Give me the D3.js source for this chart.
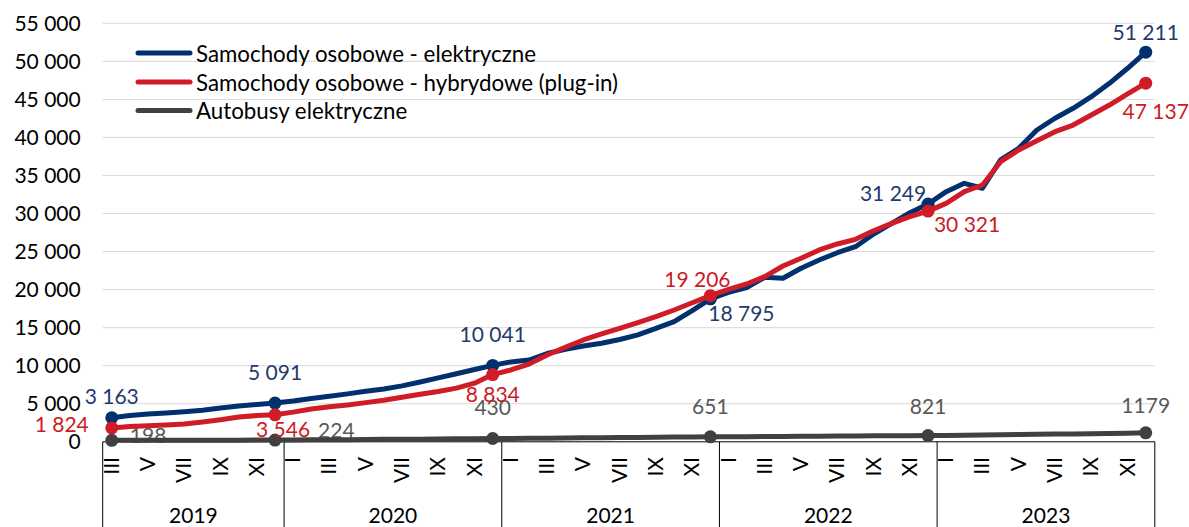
<!DOCTYPE html>
<html><head><meta charset="utf-8">
<script src="https://cdn.jsdelivr.net/npm/d3@7"></script>
<style>
body{margin:0;background:#fff}
svg{display:block}
text{font-family:Lato,"Noto Sans",sans-serif}
</style>
</head><body>
<svg id="chart" width="1189" height="527"></svg>
<script>
// ---------- DATA ----------
const categories = [
  "2019-III","2019-IV","2019-V","2019-VI","2019-VII","2019-VIII","2019-IX","2019-X","2019-XI","2019-XII",
  "2020-I","2020-II","2020-III","2020-IV","2020-V","2020-VI","2020-VII","2020-VIII","2020-IX","2020-X","2020-XI","2020-XII",
  "2021-I","2021-II","2021-III","2021-IV","2021-V","2021-VI","2021-VII","2021-VIII","2021-IX","2021-X","2021-XI","2021-XII",
  "2022-I","2022-II","2022-III","2022-IV","2022-V","2022-VI","2022-VII","2022-VIII","2022-IX","2022-X","2022-XI","2022-XII",
  "2023-I","2023-II","2023-III","2023-IV","2023-V","2023-VI","2023-VII","2023-VIII","2023-IX","2023-X","2023-XI","2023-XII"
];
const years = ["2019","2020","2021","2022","2023"];
const shownMonths = ["I","III","V","VII","IX","XI"];
const yTicks = [0,5000,10000,15000,20000,25000,30000,35000,40000,45000,50000,55000];

const seriesNames = [
  "Samochody osobowe - elektryczne",
  "Samochody osobowe - hybrydowe (plug-in)",
  "Autobusy elektryczne"
];
const electricCars = [
  3163,3450,3650,3800,3950,4150,4450,4700,4900,5091,
  5350,5700,6000,6300,6650,6950,7350,7850,8400,8950,9500,10041,
  10500,10750,11600,12150,12600,12950,13450,14050,14900,15800,17250,18795,
  19650,20260,21620,21490,22800,23890,24850,25640,27310,28710,30110,31249,
  32870,33970,33320,37040,38570,40980,42520,43830,45350,47110,49090,51211
];
const hybridCars = [
  1824,2000,2100,2200,2350,2600,2900,3250,3450,3546,
  3900,4300,4600,4850,5150,5450,5850,6250,6600,7050,7700,8834,
  9440,10220,11410,12420,13380,14170,14920,15660,16450,17320,18280,19206,
  20040,20740,21700,23100,24120,25210,26000,26610,27740,28710,29580,30321,
  31340,32870,33750,36810,38350,39570,40760,41630,42950,44260,45710,47137
];
const electricBuses = [
  198,200,203,205,208,212,215,218,221,224,
  240,255,270,285,300,320,335,350,370,390,410,430,
  450,465,480,500,520,540,560,575,595,615,635,651,
  665,680,690,705,720,735,750,765,780,795,810,821,
  840,865,890,920,950,985,1010,1040,1070,1100,1140,1179
];
// categories whose points carry a marker and a value label
const markedCategories = ["2019-III","2019-XII","2020-XII","2021-XII","2022-XII","2023-XII"];

// ---------- STYLE / LAYOUT ----------
const colors = ["#00306e","#d01c27","#404040"];
const labelColors = ["#1f3a6e","#cc1a24","#595959"];
const FS = 21;
const LEGEND_FS = 22.3;
// label offsets (dx, dy from point, anchor) per series per marked category
const labelOffsets = [
  [[0,-22,"middle"],[0,-32,"middle"],[0,-32,"middle"],[31,14,"middle"],[-35,-12,"middle"],[0,-21,"middle"]],
  [[-23,-4,"end"],[8,14,"middle"],[0,19,"middle"],[-13,-17,"middle"],[39,12,"middle"],[10,27,"middle"]],
  [[18,-6,"start"],[43,-11,"start"],[0,-32,"middle"],[0,-31,"middle"],[0,-30,"middle"],[0,-28,"middle"]]
];

const svg = d3.select("#chart");
const left = 102.7, right = 1154.8, y0 = 441.8, yTop = 23.3;

const x = d3.scaleBand().domain(categories).range([left, right]).padding(0);
const cx = c => x(c) + x.bandwidth() / 2;
const y = d3.scaleLinear().domain([0, 55000]).range([y0, yTop]);

const loc = d3.formatLocale({decimal:",", thousands:" ", grouping:[3], currency:["",""]});
const fmt = loc.format(",d");

// gridlines
svg.append("g").selectAll("line").data(yTicks.filter(d => d > 0)).join("line")
  .attr("x1", left).attr("x2", right)
  .attr("y1", d => y(d)).attr("y2", d => y(d))
  .attr("stroke", "#d9d9d9").attr("stroke-width", 1);

// y axis
const yAxis = svg.append("g").attr("transform", `translate(${left},0)`)
  .call(d3.axisLeft(y).tickValues(yTicks).tickFormat(fmt).tickSize(0).tickPadding(22));
yAxis.select(".domain").remove();
yAxis.selectAll("text").attr("font-size", FS).attr("fill", "#000").attr("font-family", "Lato");

// x axis box
svg.append("line").attr("x1", left).attr("x2", right).attr("y1", y0).attr("y2", y0)
  .attr("stroke", "#000").attr("stroke-width", 1);
const yearStarts = years.map(yr => categories.find(c => c.startsWith(yr)));
const yearEnds = years.map(yr => categories.filter(c => c.startsWith(yr)).slice(-1)[0]);
const boundaries = yearStarts.map(c => x(c)).concat([x(yearEnds[yearEnds.length-1]) + x.bandwidth()]);
svg.append("g").selectAll("line").data(boundaries).join("line")
  .attr("x1", d => d).attr("x2", d => d).attr("y1", y0).attr("y2", 527)
  .attr("stroke", "#000").attr("stroke-width", 1);

// month labels (rotated)
const monthLabelData = categories.filter(c => shownMonths.includes(c.split("-")[1]));
svg.append("g").selectAll("text").data(monthLabelData).join("text")
  .attr("transform", c => `translate(${cx(c) + 7},457) rotate(-90)`)
  .attr("text-anchor", "end")
  .attr("font-size", FS).attr("fill", "#000")
  .text(c => c.split("-")[1]);

// year labels
svg.append("g").selectAll("text").data(years).join("text")
  .attr("x", (d, i) => (boundaries[i] + boundaries[i+1]) / 2)
  .attr("y", 523)
  .attr("text-anchor", "middle").attr("font-size", FS).attr("fill", "#000")
  .text(d => d);

// series
const allSeries = [electricCars, hybridCars, electricBuses];
const line = d3.line().x((d, i) => cx(categories[i])).y(d => y(d));

function drawLabels(si) {
  const vals = allSeries[si];
  svg.append("g").selectAll("text").data(markedCategories).join("text")
    .attr("x", (c, k) => cx(c) + labelOffsets[si][k][0])
    .attr("y", (c, k) => y(vals[categories.indexOf(c)]) + labelOffsets[si][k][1])
    .attr("dominant-baseline", "central")
    .attr("text-anchor", (c, k) => labelOffsets[si][k][2])
    .attr("font-size", FS).attr("fill", labelColors[si])
    .text(c => si === 2 ? String(vals[categories.indexOf(c)]) : fmt(vals[categories.indexOf(c)]));
}

drawLabels(2);
allSeries.forEach((vals, si) => {
  svg.append("path").datum(vals)
    .attr("d", line).attr("fill", "none")
    .attr("stroke", colors[si]).attr("stroke-width", 5)
    .attr("stroke-linejoin", "round").attr("stroke-linecap", "round");
  svg.append("g").selectAll("circle").data(markedCategories).join("circle")
    .attr("cx", c => cx(c)).attr("cy", c => y(vals[categories.indexOf(c)]))
    .attr("r", 6.5).attr("fill", colors[si]);
});
drawLabels(0);
drawLabels(1);

// legend
const legend = svg.append("g");
const legendY = [53, 82, 110.5];
seriesNames.forEach((name, i) => {
  legend.append("line").attr("x1", 138).attr("x2", 190)
    .attr("y1", legendY[i]).attr("y2", legendY[i])
    .attr("stroke", colors[i]).attr("stroke-width", 5).attr("stroke-linecap", "round");
  legend.append("text").attr("x", 196).attr("y", legendY[i])
    .attr("dominant-baseline", "central").attr("font-size", LEGEND_FS).attr("fill", "#000")
    .text(name);
});
</script>
</body></html>
